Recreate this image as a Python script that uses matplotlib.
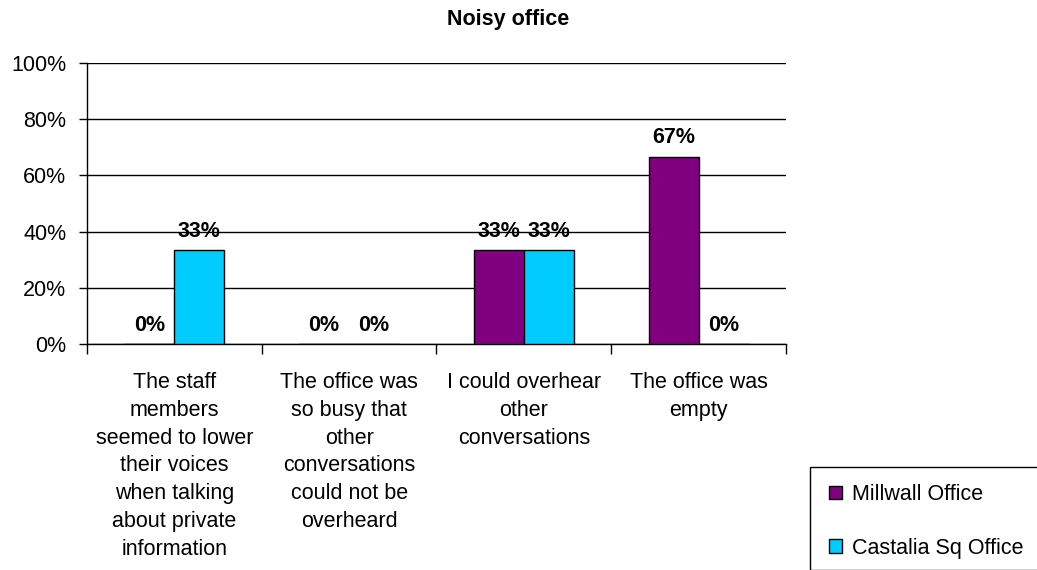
import numpy as np
import matplotlib.pyplot as plt
from matplotlib.patches import Rectangle, Patch
from matplotlib.ticker import FuncFormatter

plt.rcParams['font.family'] = ['Liberation Sans', 'DejaVu Sans']

categories = [
    "The staff\nmembers\nseemed to lower\ntheir voices\nwhen talking\nabout private\ninformation",
    "The office was\nso busy that\nother\nconversations\ncould not be\noverheard",
    "I could overhear\nother\nconversations",
    "The office was\nempty",
]
millwall = [0.0, 0.0, 1 / 3, 2 / 3]
castalia = [1 / 3, 0.0, 1 / 3, 0.0]
series_names = ["Millwall Office", "Castalia Sq Office"]
colors = ["#800080", "#00CCFF"]

FS = 15.5

fig = plt.figure(figsize=(10.37, 5.70), dpi=100)
ax = fig.add_axes([0.0839, 0.3965, 0.674, 0.493])

x = np.arange(len(categories))
w = 0.286
for vals, off, c in [(millwall, -w / 2, colors[0]), (castalia, w / 2, colors[1])]:
    bars = ax.bar(x + off, vals, w, color=c, edgecolor='black', linewidth=1, zorder=3)
    for b, v in zip(bars, vals):
        ax.annotate(f"{v * 100:.0f}%", (b.get_x() + b.get_width() / 2, v),
                    xytext=(0, 6), textcoords='offset points',
                    ha='center', va='bottom', fontsize=FS, fontweight='bold', zorder=4)

ax.set_xlim(-0.5, len(categories) - 0.5)
ax.set_ylim(0, 1)
ax.set_yticks(np.linspace(0, 1, 6))
ax.yaxis.set_major_formatter(FuncFormatter(lambda v, p: f"{v * 100:.0f}%"))
ax.tick_params(axis='y', labelsize=FS, length=6, width=1, direction='out', pad=9)
ax.yaxis.grid(True, color='black', linewidth=1, zorder=0)

# ticks on category boundaries, labels centered under each group
ax.set_xticks(np.arange(len(categories) + 1) - 0.5)
ax.set_xticklabels([])
ax.set_xticks(x, minor=True)
ax.set_xticklabels(categories, minor=True, fontsize=FS, linespacing=1.43, va='top')
ax.tick_params(axis='x', which='major', length=7, width=1, direction='out')
ax.tick_params(axis='x', which='minor', length=0, pad=20)

for s in ['top', 'right']:
    ax.spines[s].set_visible(False)
for s in ['left', 'bottom']:
    ax.spines[s].set_linewidth(1)

fig.text(0.49, 0.966, "Noisy office", ha='center', va='center', fontsize=FS, fontweight='bold')

# legend box runs off the edge of the figure
fig.patches.append(Rectangle((810 / 1037, 0), 1.0, 1 - 467 / 570, transform=fig.transFigure,
                             facecolor='white', edgecolor='black', linewidth=1, clip_on=False))
handles = [Patch(facecolor=c, edgecolor='black', linewidth=1) for c in colors]
fig.legend(handles, series_names, loc='upper left', bbox_to_anchor=(829 / 1037, 1 - 484 / 570),
           frameon=False, fontsize=FS, handlelength=0.6, handleheight=0.6, handletextpad=0.45,
           labelspacing=1.52, borderpad=0, borderaxespad=0)

fig.savefig("out.png", dpi=100)
